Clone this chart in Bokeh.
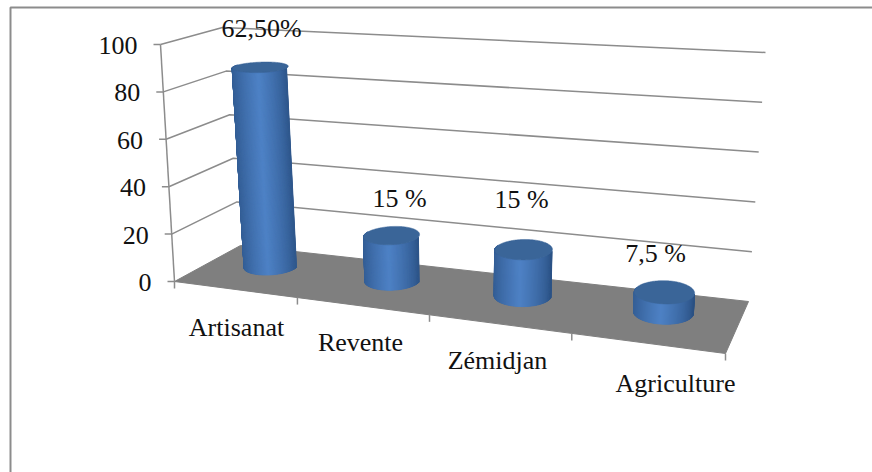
import math
from bokeh.plotting import figure
from bokeh.embed import file_html
from bokeh.resources import INLINE
from bokeh.core.properties import value

categories = ["Artisanat", "Revente", "Zémidjan", "Agriculture"]
bar_values = [87, 19, 19, 8]
bar_labels = ["62,50%", "15 %", "15 %", "7,5 %"]
tick_values = [0, 20, 40, 60, 80, 100]
tick_labels = ["0", "20", "40", "60", "80", "100"]

# screen corners of the chart box (u across, d depth, w value)
C = {(0,0,0):(174,281),(0,0,1):(160,44),(0,1,0):(240,245),(0,1,1):(222,27),
     (1,0,0):(725,353),(1,0,1):(742,92),(1,1,0):(748,301),(1,1,1):(765,52)}
PERSP = 0.8615

def proj(t, d, val):
    u = PERSP*t/(1+(PERSP-1)*t)
    w = val/100
    x = y = 0
    for a in (0,1):
        for b in (0,1):
            for c in (0,1):
                k = (u if a else 1-u)*(d if b else 1-d)*(w if c else 1-w)
                x += k*C[(a,b,c)][0]; y += k*C[(a,b,c)][1]
    return x, y

p = figure(width=872, height=472, x_range=(0,872), y_range=(472,0), output_backend="svg",
           toolbar_location=None, min_border=0, border_fill_color="white", background_fill_color="white",
           outline_line_color=None)
p.xaxis.visible = False; p.yaxis.visible = False; p.grid.visible = False

GRID = "#8c8c8c"
FONT = value("Liberation Serif")
p.line([10,10,872],[472,7,7], line_color=GRID, line_width=2)
# floor
fx, fy = zip(*[proj(0,0,0),proj(0,1,0),proj(1,1,0),proj(1,0,0)])
p.patch(list(fx), list(fy), fill_color="#7f7f7f", line_color="#7f7f7f")
# gridlines
for t in tick_values[1:]:
    xs, ys = zip(*[proj(0,0,t),proj(0,1,t),proj(1,1,t)])
    p.line(list(xs), list(ys), line_color=GRID, line_width=1.5)
# axis
xs, ys = zip(*[proj(0,0,0),proj(0,0,100)])
p.line(list(xs), list(ys), line_color=GRID, line_width=1.5)
for t, l in zip(tick_values, tick_labels):
    x, y = proj(0,0,t)
    p.line([x-7,x],[y,y], line_color=GRID, line_width=1.5)
    p.text([x-23],[y+1],text=[l],text_font=FONT,text_font_size="26px",
           text_align="right",text_baseline="middle",text_color="#111111")
for i in range(5):
    x, y = proj(i/4,0,0)
    p.line([x,x],[y,y+7], line_color=GRID, line_width=1.5)

def mix(a,b,t):
    return "#%02x%02x%02x" % tuple(int(a[i]+(b[i]-a[i])*t) for i in range(3))
DARK=(42,80,130); LIGHT=(78,130,198); TOP="#3a6598"
RU, RD, DC = 0.05, 0.23, 0.62
N = 200
for i, v in enumerate(bar_values):
    tc = (i+.5)/4 - 0.003
    def ring(val):
        return [proj(tc+RU*math.cos(2*math.pi*k/N), DC+RD*math.sin(2*math.pi*k/N), val) for k in range(N)]
    bot, top = ring(0), ring(v)
    x0 = min(q[0] for q in bot); x1 = max(q[0] for q in bot)
    qx, qy, qc = [], [], []
    # front half of the ring, from the left to the right
    for k in range(N//2 - 4, N + 4):
        k %= N
        m=(k+1)%N
        qx.append([bot[k][0],bot[m][0],top[m][0],top[k][0]])
        qy.append([bot[k][1],bot[m][1],top[m][1],top[k][1]])
        f=((bot[k][0]+bot[m][0])/2-x0)/(x1-x0)
        s=1-abs(f-.45)/.55
        qc.append(mix(DARK,LIGHT,min(1,max(0,s))**.7))
    p.patches(qx,qy,fill_color=qc,line_color=qc,line_width=1)
    p.patch([q[0] for q in top],[q[1] for q in top],fill_color=TOP,line_color=TOP,line_width=.5)

cat_x=[236,360,497,675]; cat_y=[327,342,360,383]
lab_x=[261,399,521,655]; lab_y=[28,198,199,253]
F=dict(text_font=FONT,text_font_size="26px",text_align="center",text_baseline="middle",text_color="#111111")
p.text(cat_x,cat_y,text=categories,**F)
p.text(lab_x,lab_y,text=bar_labels,**F)

open("out.html","w").write(file_html(p,INLINE))
